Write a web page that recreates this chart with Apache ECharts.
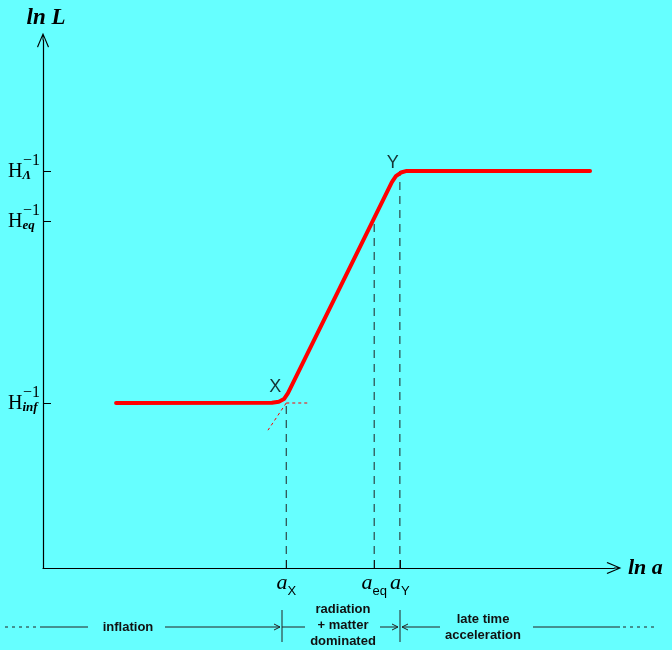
<!DOCTYPE html>
<html>
<head>
<meta charset="utf-8">
<script src="https://cdn.jsdelivr.net/npm/echarts@6.0.0/dist/echarts.min.js"></script>
<style>
  html, body { margin: 0; padding: 0; background: #66ffff; }
  #main { width: 672px; height: 650px; }
</style>
</head>
<body>
<div id="main"></div>
<script>
// ln a / ln L of the horizon curve (arbitrary units, 0..100)
var curveLnA = [12.8, 40.1, 41.3, 42.2, 42.9, 61.1, 61.8, 62.7, 63.7, 95.8];
var curveLnL = [31.25, 31.3, 31.5, 32.0, 33.1, 73.1, 74.2, 74.9, 75.2, 75.2];

// epochs: a_X, a_eq, a_Y and the matching H^-1 levels
var epochLnA = [42.6, 58.0, 62.5];
var epochLnL = [31.25, 65.7, 75.2];
var xSubs = ['X', 'eq', 'Y'];
var ySubs = ['inf', 'eq', 'Λ'];

// red dashed guides at the X corner
var flatGuideLnA = [42.6, 46.8];
var slopeGuideLnA = [42.6, 39.4];
var slopeGuideLnL = [31.25, 26.1];

var cornerNames = ['X', 'Y'];

var myChart = echarts.init(document.getElementById('main'));

/*chevron arrow (open) with a stem so the axis line reaches the tip*/
var chevron = 'path://M12,0 L24,28 L22,29.5 L12,5 L2,29.5 L0,28 Z M11,2 L13,2 L13,15 L11,15 Z';

var serif = '"Liberation Serif", "DejaVu Serif", serif';
var sans = '"Liberation Sans", Arial, sans-serif';

var series = [];

// vertical dashed lines from the axis up to the curve
epochLnA.forEach(function (a, i) {
  series.push({
    type: 'line',
    data: [[a, 0], [a, epochLnL[i]]],
    showSymbol: false,
    silent: true,
    lineStyle: { color: '#222', width: 1, type: [8, 6] },
    z: 1
  });
});

series.push({
  type: 'line',
  data: [[flatGuideLnA[0], epochLnL[0]], [flatGuideLnA[1], epochLnL[0]]],
  showSymbol: false,
  lineStyle: { color: '#ff0000', width: 1, type: [3, 3] },
  z: 1
});
series.push({
  type: 'line',
  data: [[slopeGuideLnA[0], slopeGuideLnL[0]], [slopeGuideLnA[1], slopeGuideLnL[1]]],
  showSymbol: false,
  lineStyle: { color: '#ff0000', width: 1, type: [3, 3] },
  z: 1
});

// the curve itself
series.push({
  type: 'line',
  data: curveLnA.map(function (a, i) { return [a, curveLnL[i]]; }),
  showSymbol: false,
  lineStyle: { color: '#ff0000', width: 4, cap: 'round', join: 'round' },
  z: 3
});

// X and Y corner labels
series.push({
  type: 'scatter',
  symbolSize: 1,
  itemStyle: { color: 'rgba(0,0,0,0)' },
  data: [
    { name: cornerNames[0], value: [epochLnA[0], epochLnL[0]], label: { offset: [-11, -16] } },
    { name: cornerNames[1], value: [epochLnA[2], epochLnL[2]], label: { offset: [-7, -8] } }
  ],
  label: {
    show: true,
    position: 'inside',
    formatter: '{b}',
    fontFamily: sans,
    fontSize: 18,
    color: '#000'
  },
  z: 4
});

var line = function (x1, y1, x2, y2, dash) {
  return {
    type: 'line',
    shape: { x1: x1, y1: y1, x2: x2, y2: y2 },
    style: { stroke: '#222', lineWidth: 1, lineDash: dash || null }
  };
};
var head = function (pts) {
  return { type: 'polyline', shape: { points: pts }, style: { stroke: '#222', lineWidth: 1, fill: null } };
};
var label = function (x, y, t) {
  return {
    type: 'text', x: x, y: y,
    style: { text: t, font: 'bold 13px ' + sans, fill: '#111', textAlign: 'center', textVerticalAlign: 'middle' }
  };
};

option = {
  backgroundColor: '#66ffff',
  animation: false,
  grid: { left: 43, right: 58, top: 40, bottom: 82, containLabel: false, outerBoundsMode: 'none' },
  xAxis: {
    type: 'value',
    min: 0,
    max: 100,
    name: 'ln a',
    nameLocation: 'end',
    nameGap: 14,
    nameTextStyle: { fontFamily: serif, fontStyle: 'italic', fontWeight: 'bold', fontSize: 22, color: '#000' },
    splitLine: { show: false },
    axisLine: {
      onZero: false,
      symbol: ['none', chevron],
      symbolSize: [12, 15],
      lineStyle: { color: '#000', width: 1.2 }
    },
    axisTick: { inside: true, length: 8, lineStyle: { color: '#000' }, customValues: epochLnA },
    axisLabel: {
      customValues: epochLnA,
      margin: 4,
      formatter: function (v) {
        return '{a|a}{s|' + xSubs[epochLnA.indexOf(v)] + '}';
      },
      rich: {
        a: { fontFamily: serif, fontStyle: 'italic', fontSize: 22, lineHeight: 26, verticalAlign: 'top', color: '#000' },
        s: { fontFamily: sans, fontSize: 13, lineHeight: 13, verticalAlign: 'bottom', color: '#000' }
      }
    }
  },
  yAxis: {
    type: 'value',
    min: 0,
    max: 100,
    name: 'ln L',
    nameLocation: 'end',
    nameGap: 10,
    nameTextStyle: { fontFamily: serif, fontStyle: 'italic', fontWeight: 'bold', fontSize: 23, color: '#000', padding: [0, 0, 0, 6] },
    splitLine: { show: false },
    axisLine: {
      onZero: false,
      symbol: ['none', chevron],
      symbolSize: [12, 15],
      lineStyle: { color: '#000', width: 1.2 }
    },
    axisTick: { inside: true, length: 8, lineStyle: { color: '#000' }, customValues: epochLnL },
    axisLabel: {
      customValues: epochLnL,
      margin: 35,
      align: 'left',
      formatter: function (v) {
        return '{g| }{sup|−1}\n{H|H}{sub|' + ySubs[epochLnL.indexOf(v)] + '}{v| }';
      },
      rich: {
        g: { width: 15, lineHeight: 2 },
        sup: { fontFamily: serif, fontSize: 16, lineHeight: 2, color: '#000' },
        H: { fontFamily: serif, fontSize: 20, lineHeight: 18, verticalAlign: 'top', color: '#000' },
        sub: { fontFamily: serif, fontStyle: 'italic', fontWeight: 'bold', fontSize: 13, lineHeight: 10, verticalAlign: 'bottom', color: '#000' },
        v: { width: 1, lineHeight: 21 }
      }
    }
  },
  graphic: [
    line(5, 627, 39, 627, [3, 4]),
    line(40, 627, 88, 627),
    label(128, 627, 'inflation'),
    line(165, 627, 280, 627),
    head([[274, 624], [280, 627], [274, 630]]),
    line(282, 610, 282, 642),
    line(282, 627, 305, 627),
    label(343, 609, 'radiation'),
    label(343, 625, '+ matter'),
    label(343, 641, 'dominated'),
    line(380, 627, 398, 627),
    head([[392, 624], [398, 627], [392, 630]]),
    line(400, 610, 400, 642),
    head([[408, 624], [402, 627], [408, 630]]),
    line(402, 627, 440, 627),
    label(483, 619, 'late time'),
    label(483, 635, 'acceleration'),
    line(533, 627, 620, 627),
    line(623, 627, 656, 627, [3, 4])
  ],
  series: series
};

myChart.setOption(option);
</script>
</body>
</html>
